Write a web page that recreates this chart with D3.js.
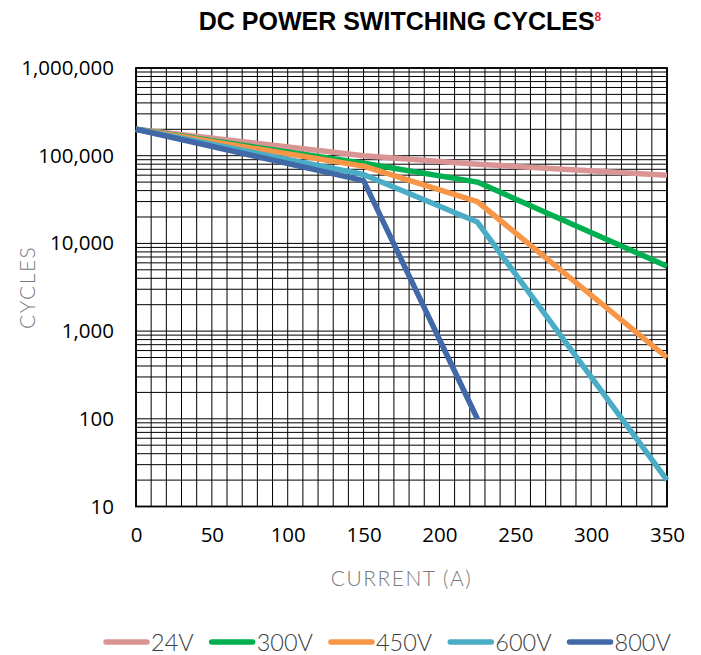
<!DOCTYPE html>
<html><head><meta charset="utf-8">
<script src="https://cdn.jsdelivr.net/npm/d3@7"></script>
<style>
body{margin:0;background:#fff;}
svg{display:block;}
</style></head>
<body>
<svg id="chart" width="701" height="655"></svg>
<script>
// ---- data ----
const currents = [0, 150, 225, 350];
const series24V  = [200000, 100000, 80000, 60000];
const series300V = [200000, 82000, 50000, 5500];
const series450V = [200000, 76000, 30000, 500];
const series600V = [200000, 61000, 17500, 20];
const series800V = [200000, 52000, 100];   // ends at 225 A
const seriesNames = ["24V", "300V", "450V", "600V", "800V"];
const seriesColors = ["#D99594", "#00B050", "#F79646", "#4BACC6", "#4169A8"];
const xTicks = [0, 50, 100, 150, 200, 250, 300, 350];
const yTicks = [10, 100, 1000, 10000, 100000, 1000000];

const allSeries = [series24V, series300V, series450V, series600V, series800V];

const svg = d3.select("#chart");
const m = {left:136, right:667, top:68, bottom:506.5};

const x = d3.scaleLinear().domain([0, 350]).range([m.left, m.right]);
const y = d3.scaleLog().domain([10, 1000000]).range([m.bottom, m.top]);

// title
const title = svg.append("text")
  .attr("x", 400).attr("y", 30)
  .attr("text-anchor", "middle")
  .style("font-family", "'Liberation Sans', Arial, sans-serif")
  .style("font-weight", "bold")
  .style("font-size", "25px")
  .attr("fill", "#000");
title.append("tspan").text("DC POWER SWITCHING CYCLES");
title.append("tspan").text("8")
  .attr("dy", -9).style("font-size", "12px").attr("fill", "#E2252B");

// grid
const g = svg.append("g");
const vgrid = d3.range(0, 351, 10);
g.selectAll("line.v").data(vgrid).join("line")
  .attr("x1", d => x(d)).attr("x2", d => x(d))
  .attr("y1", m.top).attr("y2", m.bottom)
  .attr("stroke", "#000").attr("stroke-width", 1);

const hgrid = [];
for (let e = 1; e < 6; e++) for (let k = 1; k <= 9; k++) hgrid.push(k * Math.pow(10, e));
hgrid.push(1000000);
g.selectAll("line.h").data(hgrid).join("line")
  .attr("x1", m.left).attr("x2", m.right)
  .attr("y1", d => y(d)).attr("y2", d => y(d))
  .attr("stroke", "#000").attr("stroke-width", 1);

g.append("rect")
  .attr("x", m.left).attr("y", m.top)
  .attr("width", m.right - m.left).attr("height", m.bottom - m.top)
  .attr("fill", "none").attr("stroke", "#000").attr("stroke-width", 1.8);

// axes labels (via d3 axes, domain/ticks hidden)
const fmt = d3.format(",");
const yAxis = svg.append("g").attr("transform", `translate(${m.left},0)`)
  .call(d3.axisLeft(y).tickValues(yTicks).tickFormat(fmt).tickSize(0).tickPadding(22));
const xAxis = svg.append("g").attr("transform", `translate(0,${m.bottom})`)
  .call(d3.axisBottom(x).tickValues(xTicks).tickSize(0).tickPadding(21));
[xAxis, yAxis].forEach(a => {
  a.select(".domain").remove();
  a.selectAll("text")
    .style("font-family", "'Open Sans', sans-serif")
    .style("font-size", "20.5px")
    .attr("fill", "#000");
});

// axis titles
svg.append("text")
  .attr("transform", `translate(35,${(m.top + m.bottom) / 2}) rotate(-90)`)
  .attr("text-anchor", "middle")
  .style("font-family", "Lato, sans-serif").style("font-weight", 300)
  .style("font-size", "21px").style("letter-spacing", "1.5px")
  .attr("fill", "#7A7A7A").text("CYCLES");
svg.append("text")
  .attr("x", (m.left + m.right) / 2).attr("y", 586)
  .attr("text-anchor", "middle")
  .style("font-family", "Lato, sans-serif").style("font-weight", 300)
  .style("font-size", "21px").style("letter-spacing", "1.5px")
  .attr("fill", "#7A7A7A").text("CURRENT (A)");

// lines
const line = d3.line().x(d => x(d[0])).y(d => y(d[1]));
allSeries.forEach((s, i) => {
  const pts = s.map((v, j) => [currents[j], v]);
  svg.append("path").datum(pts)
    .attr("d", line)
    .attr("fill", "none")
    .attr("stroke", seriesColors[i])
    .attr("stroke-width", 5.5)
    .attr("stroke-linejoin", "round");
});

// legend
const legend = svg.append("g").attr("transform", "translate(106,642)");
let lx = 0;
seriesNames.forEach((n, i) => {
  const it = legend.append("g").attr("transform", `translate(${lx},0)`);
  it.append("line").attr("x1", 0).attr("x2", 41).attr("y1", 0).attr("y2", 0)
    .attr("stroke", seriesColors[i]).attr("stroke-width", 5.5).attr("stroke-linecap", "round");
  const t = it.append("text").attr("x", 45).attr("y", 8.5)
    .style("font-family", "Lato, sans-serif").style("font-weight", 300)
    .style("font-size", "23.5px").attr("fill", "#404040").text(n);
  lx += 45 + t.node().getComputedTextLength() + 18;
});
</script>
</body></html>
